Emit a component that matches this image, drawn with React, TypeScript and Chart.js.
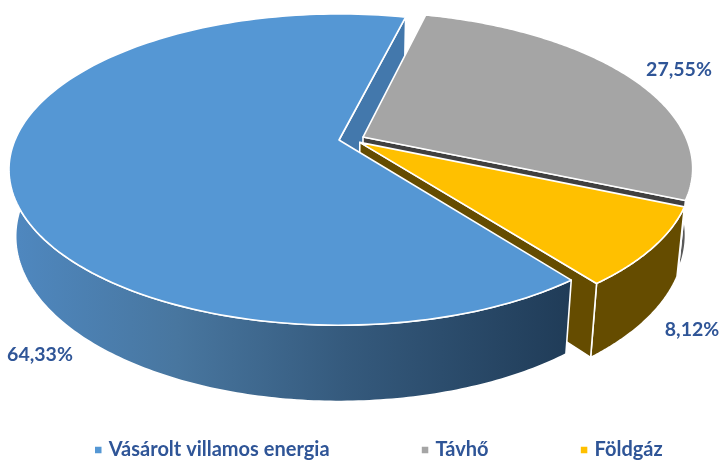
import React, { useEffect, useRef } from "react";
import { Chart, registerables } from "chart.js";

Chart.register(...registerables);

const categories = ["Vásárolt villamos energia", "Távhő", "Földgáz"];
const shares = [64.33, 27.55, 8.12];
const sliceColors = ["#5597d4", "#a5a5a5", "#ffc000"];
const endFaceColors = ["#4378ac", "#404040", "#654c00"];
const rimColors = ["", "#5a5a5a", "#654c00"];
const explodeU = [0, 0.0744, 0.064];
const explodeV = [0, -0.02, 0.016];
const labelCentres = [
  [40, 355],
  [679, 70],
  [692, 330],
];
const TEXT = "#2f5597";
const FONT = "Lato";

// Perspective view of the pie's disc
const CX = 339, CY = 140, A = 324, B = 150, K = 0.19, M = 0.02, D = 67;
function project(u: number, v: number, h: number): [number, number] {
  const w = 1 - K * v + M * h;
  return [CX + (A * u) / w, CY + (B * v + D * h) / w];
}

const pie3d = {
  id: "pie3d",
  afterLayout(chart: any) {
    const legend = chart.legend;
    const padding = chart.options.plugins.legend.labels.padding;
    legend.maxWidth = 2000;
    legend.fit();
    legend.left = 97.75 - padding;
    legend.right = 2000;
    legend.top = 440 - padding;
  },
  beforeDatasetsDraw(chart: any) {
    const ctx: CanvasRenderingContext2D = chart.ctx;
    const arcs = chart.getDatasetMeta(0).data;
    const STEPS = 160;

    const rim = (i: number, h: number, share = 1) => {
      const a = arcs[i];
      const pts: [number, number][] = [];
      for (let s = 0; s <= STEPS; s++) {
        const t = a.startAngle + ((a.endAngle - a.startAngle) * share * s) / STEPS;
        pts.push(project(explodeU[i] + Math.cos(t), explodeV[i] + Math.sin(t), h));
      }
      return pts;
    };
    const fill = (pts: [number, number][], color: any) => {
      ctx.beginPath();
      pts.forEach((p, n) => (n ? ctx.lineTo(p[0], p[1]) : ctx.moveTo(p[0], p[1])));
      ctx.closePath();
      ctx.fillStyle = color;
      ctx.fill();
      ctx.strokeStyle = "#ffffff";
      ctx.lineWidth = 1.6;
      ctx.lineJoin = "round";
      ctx.stroke();
    };
    const endFace = (i: number) => {
      const top = rim(i, 0);
      const bottom = rim(i, 1);
      fill(
        [
          project(explodeU[i], explodeV[i], 0),
          top[STEPS],
          bottom[STEPS],
          project(explodeU[i], explodeV[i], 1),
        ],
        endFaceColors[i]
      );
    };
    const rimWall = (i: number, color: any, share = 1) => {
      fill([...rim(i, 0, share), ...rim(i, 1, share).reverse()], color);
    };
    const topFace = (i: number) => {
      fill([project(explodeU[i], explodeV[i], 0), ...rim(i, 0)], sliceColors[i]);
    };

    const blueWall = ctx.createLinearGradient(10, 0, 568, 0);
    blueWall.addColorStop(0, "#4f88c0");
    blueWall.addColorStop(0.3, "#48769f");
    blueWall.addColorStop(0.6, "#355a7d");
    blueWall.addColorStop(1, "#203c58");

    endFace(0);
    [1, 2].forEach((i) => {
      rimWall(i, rimColors[i]);
      endFace(i);
      topFace(i);
    });
    rimWall(0, blueWall, 0.57);
    topFace(0);

    ctx.save();
    ctx.font = `bold 19.5px ${FONT}`;
    ctx.fillStyle = TEXT;
    ctx.textAlign = "center";
    ctx.textBaseline = "middle";
    shares.forEach((v, i) => {
      ctx.fillText(v.toFixed(2).replace(".", ",") + "%", labelCentres[i][0], labelCentres[i][1]);
    });
    ctx.restore();
    return false;
  },
};

export default function App() {
  const ref = useRef<HTMLCanvasElement>(null);
  useEffect(() => {
    document.body.style.margin = "0";
    document.body.style.background = "#ffffff";
    const chart = new Chart(ref.current!, {
      type: "pie",
      data: {
        labels: categories,
        datasets: [{ data: shares, backgroundColor: sliceColors, borderColor: "#ffffff" }],
      },
      options: {
        responsive: false,
        animation: false,
        rotation: 142.5,
        plugins: {
          tooltip: { enabled: false },
          legend: {
            position: "bottom",
            align: "start",
            labels: {
              boxWidth: 1,
              boxHeight: 1,
              padding: 95,
              color: TEXT,
              font: { family: FONT, weight: "bold", size: 20 },
              generateLabels(c: any) {
                return (Chart as any).overrides.pie.plugins.legend.labels
                  .generateLabels(c)
                  .map((it: any) => ({ ...it, strokeStyle: it.fillStyle, lineWidth: 5.5 }));
              },
            },
          },
        },
      },
      plugins: [pie3d],
    } as any);
    return () => chart.destroy();
  }, []);
  return <canvas ref={ref} width={721} height={461} style={{ display: "block" }} />;
}
